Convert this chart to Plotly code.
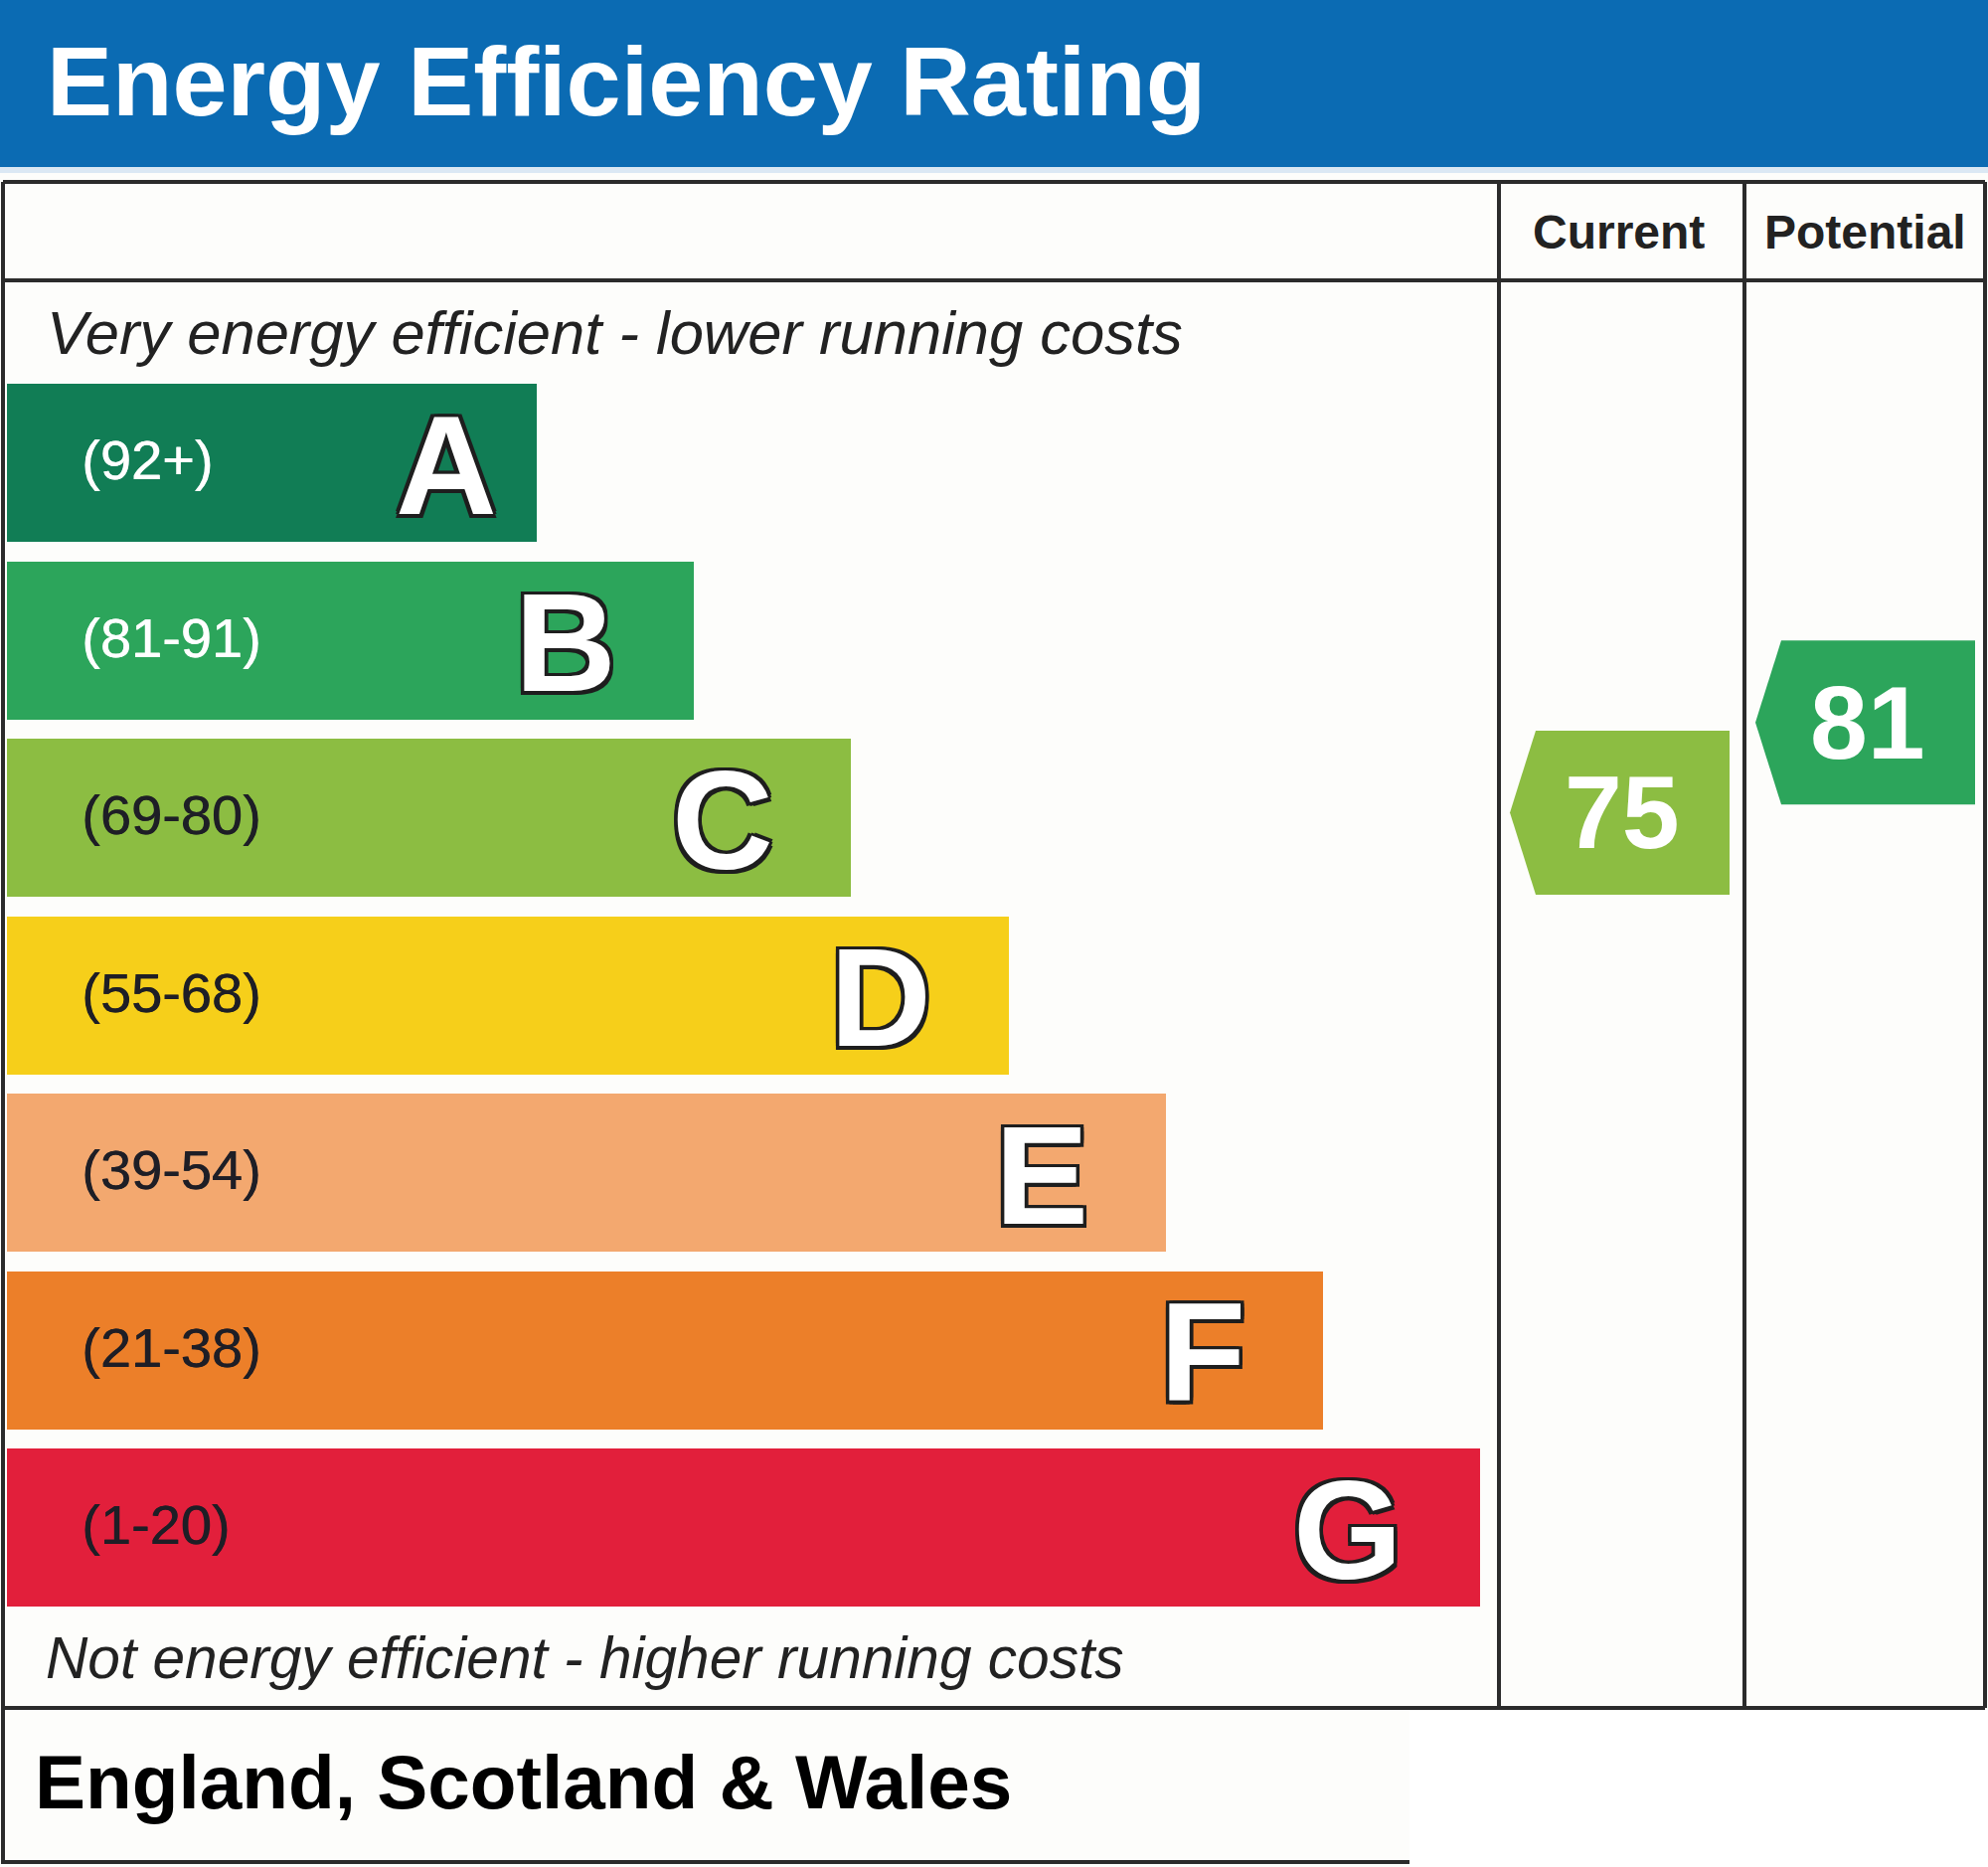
import plotly.graph_objects as go

# EPC bands, top (most efficient) to bottom
bands = ["A", "B", "C", "D", "E", "F", "G"]
range_lo = [92, 81, 69, 55, 39, 21, 1]
range_hi = [100, 91, 80, 68, 54, 38, 20]
range_labels = ["(92+)", "(81-91)", "(69-80)", "(55-68)", "(39-54)", "(21-38)", "(1-20)"]
band_colors = ["#117d55", "#2ca55b", "#8cbd42", "#f6cf1a", "#f3a86f", "#ec7f29", "#e21f3b"]
label_colors = ["white", "white", "#1e1e26", "#1e1e26", "#1e1e26", "#1e1e26", "#1e1e26"]

current_rating = 75
potential_rating = 81

W, H = 2000, 1878
FONT = "Liberation Sans, Arial, sans-serif"
LINE = "#2b2b2b"

bar_top0 = 386
pitch = 178.5
bar_h = 159
bar_left = 7


def band_of(score):
    for i, (lo, hi) in enumerate(zip(range_lo, range_hi)):
        if lo <= score <= hi:
            return i
    return len(bands) - 1


def score_y(score):
    i = band_of(score)
    return bar_top0 + pitch * i + (range_hi[i] - score) / (range_hi[i] - range_lo[i] + 1) * pitch


centers = [bar_top0 + pitch * i + bar_h / 2 for i in range(len(bands))]
ends = [540 + 158.2 * i for i in range(len(bands))]

fig = go.Figure()

fig.add_trace(go.Bar(
    orientation="h",
    y=centers,
    x=[e - bar_left for e in ends],
    base=bar_left,
    width=bar_h,
    marker=dict(color=band_colors, line=dict(width=0)),
    hoverinfo="skip",
    showlegend=False,
))

# rating arrows in the Current / Potential columns
cols = [(1508, 1755, current_rating), (1755, 1997, potential_rating)]
annotations = []
for k, (left, right, score) in enumerate(cols):
    x0 = left + 11
    x1 = right - (15 if k == 0 else 10)
    yc = score_y(score)
    half = 82.5
    tip = 26
    fig.add_trace(go.Scatter(
        x=[x0, x0 + tip, x1, x1, x0 + tip, x0],
        y=[yc, yc - half, yc - half, yc + half, yc + half, yc],
        fill="toself", mode="lines",
        fillcolor=band_colors[band_of(score)],
        line=dict(width=0, color=band_colors[band_of(score)]),
        hoverinfo="skip", showlegend=False,
    ))
    annotations.append(dict(
        x=(x0 + x1) / 2 + 2, y=yc, text=str(score), showarrow=False,
        xanchor="center", yanchor="middle",
        font=dict(family=FONT, size=104, color="white", weight="bold"),
    ))

outline = ", ".join(f"{dx}px {dy}px 0 #1e1e1e" for dx in (-3.5, 0, 3.5) for dy in (-3.5, 0, 3.5) if dx or dy)
for i, b in enumerate(bands):
    annotations.append(dict(
        x=80, y=centers[i] - 3, text=range_labels[i], showarrow=False,
        xanchor="left", yanchor="middle",
        font=dict(family=FONT, size=56, color=label_colors[i],
                  shadow=f"0.6px 0 0 {label_colors[i]}"),
    ))
    off = 38 if i == 0 else 76
    annotations.append(dict(
        x=ends[i] - off, y=centers[i] + 2, text=b, showarrow=False,
        xanchor="right", yanchor="middle",
        font=dict(family=FONT, size=141, color="white", weight="bold", shadow=outline),
    ))

annotations += [
    dict(x=45, y=81, text="Energy Efficiency Rating", showarrow=False,
         xanchor="left", yanchor="middle",
         font=dict(family=FONT, size=99, color="white", weight="bold")),
    dict(x=1628, y=233, text="Current", showarrow=False, xanchor="center", yanchor="middle",
         font=dict(family=FONT, size=48, color="#222222", weight="bold")),
    dict(x=1876, y=233, text="Potential", showarrow=False, xanchor="center", yanchor="middle",
         font=dict(family=FONT, size=48, color="#222222", weight="bold")),
    dict(x=45, y=334, text="Very energy efficient - lower running costs", showarrow=False,
         xanchor="left", yanchor="middle",
         font=dict(family=FONT, size=61.5, color="#222222", style="italic")),
    dict(x=44, y=1667, text="Not energy efficient - higher running costs", showarrow=False,
         xanchor="left", yanchor="middle",
         font=dict(family=FONT, size=58.6, color="#222222", style="italic")),
    dict(x=33, y=1792, text="England, Scotland & Wales", showarrow=False,
         xanchor="left", yanchor="middle",
         font=dict(family=FONT, size=76.5, color="black", weight="bold")),
]

shapes = [
    dict(type="rect", x0=0, x1=W, y0=0, y1=168, fillcolor="#0b6bb3", line=dict(width=0), layer="below"),
    dict(type="rect", x0=0, x1=W, y0=168, y1=174, fillcolor="#dbe8f4", line=dict(width=0), layer="below"),
    dict(type="rect", x0=1418, x1=W, y0=1720, y1=H, fillcolor="white", line=dict(width=0), layer="below"),
]
grid_lines = [
    (3, 183, 1997, 183), (3, 282, 1997, 282), (3, 1718, 1997, 1718),
    (3, 1873, 1418, 1873), (3, 183, 3, 1875),
    (1508, 183, 1508, 1718), (1755, 183, 1755, 1718), (1997, 183, 1997, 1718),
]
for xa, ya, xb, yb in grid_lines:
    shapes.append(dict(type="line", x0=xa, y0=ya, x1=xb, y1=yb, line=dict(color=LINE, width=4)))

fig.update_layout(
    width=W, height=H,
    margin=dict(l=0, r=0, t=0, b=0),
    paper_bgcolor="#fdfdfb", plot_bgcolor="#fdfdfb",
    xaxis=dict(range=[0, W], visible=False, fixedrange=True),
    yaxis=dict(range=[H, 0], visible=False, fixedrange=True),
    shapes=shapes, annotations=annotations,
    bargap=0,
)

fig.write_html("out.html", config={"displayModeBar": False},
               post_script="document.body.style.margin='0';document.body.style.overflow='hidden';")
